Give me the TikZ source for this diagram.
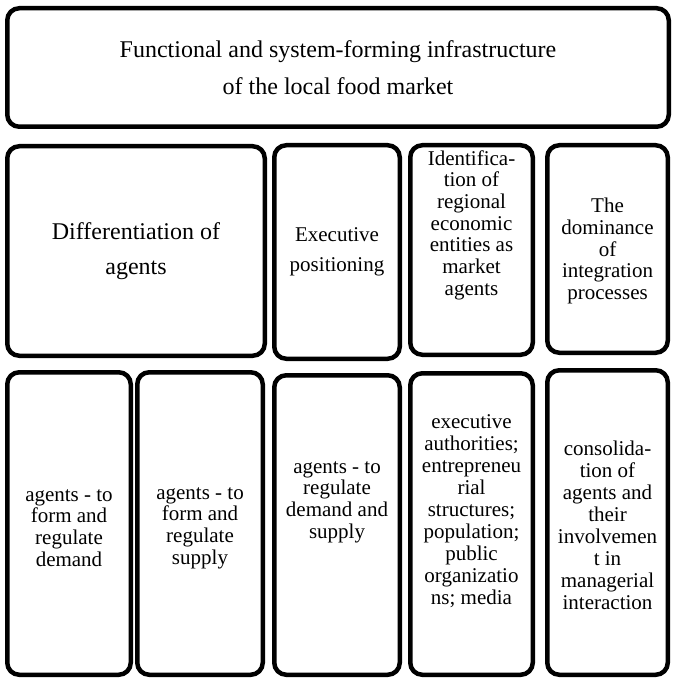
\documentclass[tikz,border=0pt]{standalone}
\usepackage{fontspec}
\setmainfont{Liberation Serif}
\begin{document}
\begin{tikzpicture}[x=1pt,y=-1pt,
  box/.style={draw, line width=4.5pt, rounded corners=12pt, inner sep=0pt, align=center},
  small/.style={font=\fontsize{21}{21.7}\selectfont},
  txt/.style={align=center, inner sep=0pt, small}]
\useasboundingbox (0,0) rectangle (672,679);
% top
\node[box, minimum width=661.5pt, minimum height=118.5pt,
      font=\fontsize{24}{37}\selectfont] (top) at (338,67.5)
  {Functional and system-forming infrastructure\\of the local food market};
% row 2
\node[box, minimum width=257.5pt, minimum height=209.5pt,
      font=\fontsize{24}{35}\selectfont] (diff) at (136,251)
  {Differentiation of\\agents};
\node[box, minimum width=125.5pt, minimum height=213.5pt,
      font=\fontsize{21}{30}\selectfont] (exec) at (337,252)
  {Executive\\positioning};
\node[box, minimum width=122.5pt, minimum height=209.5pt] (ident) at (471.5,250) {};
\node[txt] (identtext) at (471.5,225)
  {Identifica-\\tion of\\regional\\economic\\entities as\\market\\agents};
\node[box, minimum width=120.5pt, minimum height=207.5pt] (dom) at (607.5,249) {};
\node[txt] (domtext) at (607.5,251)
  {The\\dominance\\of\\integration\\processes};
% row 3
\node[box, minimum width=123.5pt, minimum height=302.5pt] (dem) at (69,523.5) {};
\node[txt] (demtext) at (69,528)
  {agents - to\\form and\\regulate\\demand};
\node[box, minimum width=125.5pt, minimum height=302.5pt] (sup) at (200,523.5) {};
\node[txt] (suptext) at (200,528)
  {agents - to\\form and\\regulate\\supply};
\node[box, minimum width=125.5pt, minimum height=299.5pt] (ds) at (337,525) {};
\node[txt] (dstext) at (337,502)
  {agents - to\\regulate\\demand and\\supply};
\node[box, minimum width=122.5pt, minimum height=301.5pt] (list) at (471.5,524) {};
\node[txt, font=\fontsize{21}{22}\selectfont] (listtext) at (471.5,511)
  {executive\\authorities;\\entrepreneu\\rial\\structures;\\population;\\public\\organizatio\\ns; media};
\node[box, minimum width=120.5pt, minimum height=304.5pt] (cons) at (607.5,522.5) {};
\node[txt, font=\fontsize{21}{22}\selectfont] (constext) at (607.5,525)
  {consolida-\\tion of\\agents and\\their\\involvemen\\t in\\managerial\\interaction};
\end{tikzpicture}
\end{document}
